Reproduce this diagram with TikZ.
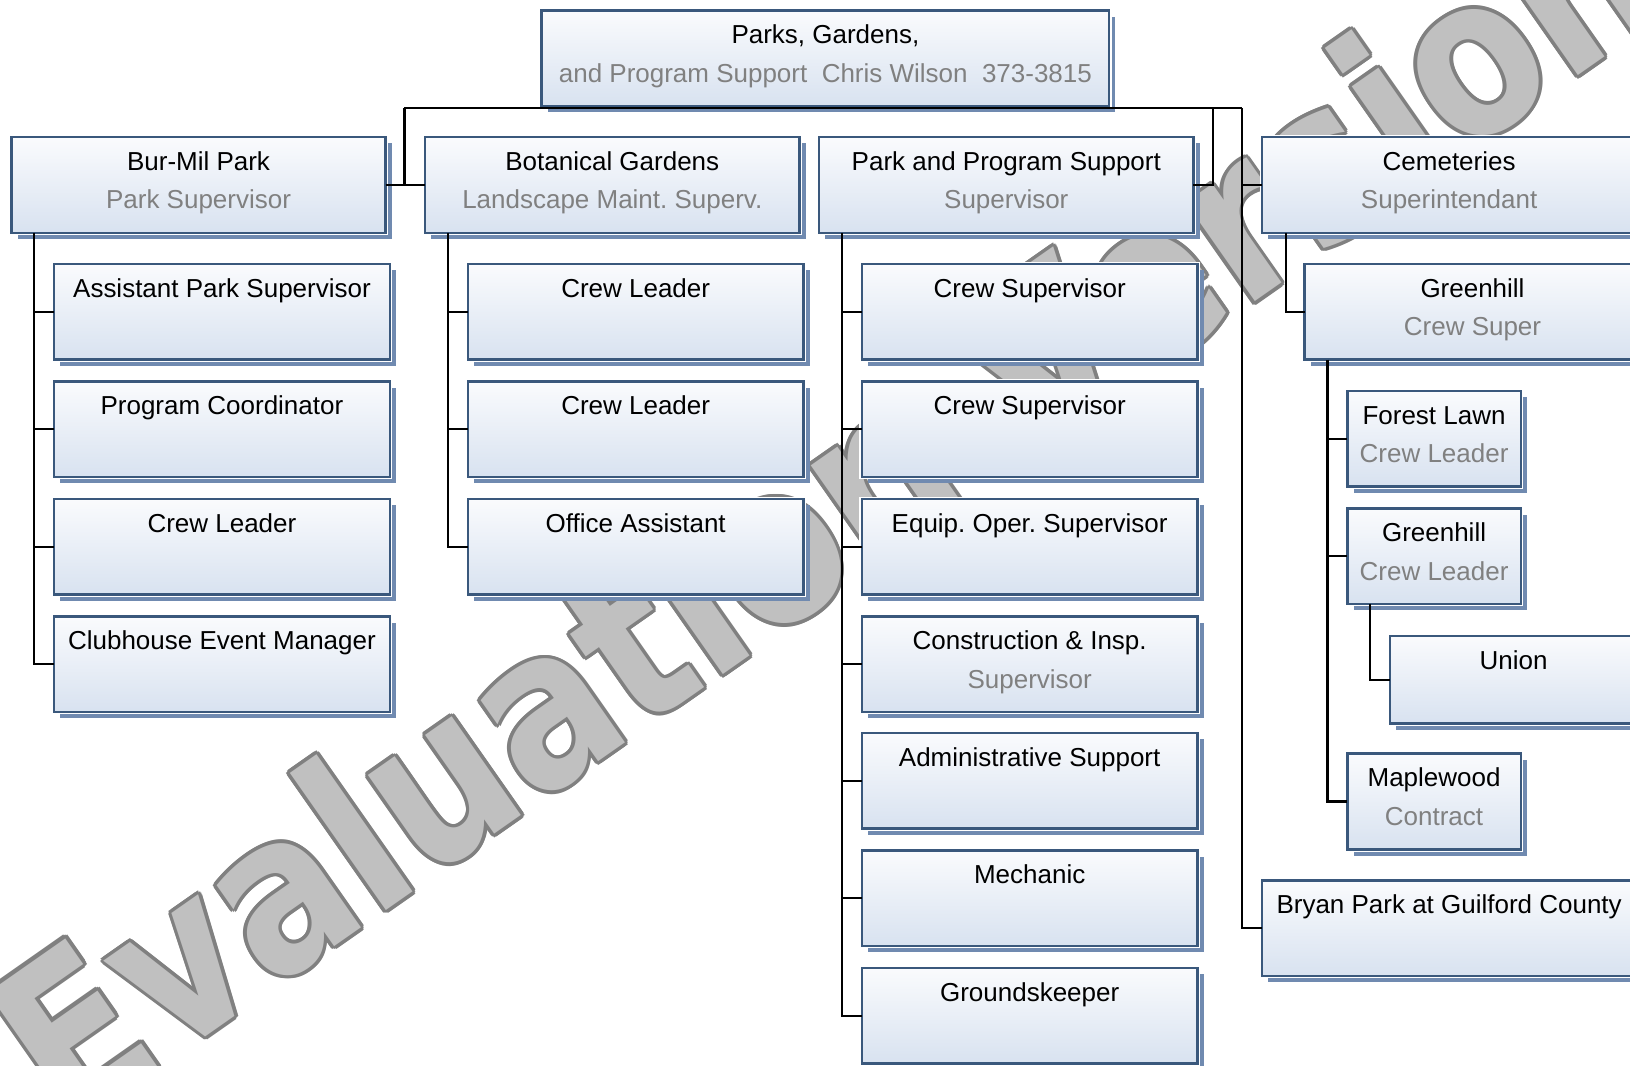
\documentclass[tikz,border=0pt]{standalone}
\usepackage{fontspec}
\setmainfont{Liberation Sans}
\newfontfamily\wmfont{DejaVu Sans}
\usetikzlibrary{shadows}
\definecolor{boxtop}{RGB}{250,251,253}
\definecolor{boxbot}{RGB}{216,226,240}
\definecolor{borderc}{RGB}{58,88,124}
\definecolor{shadowc}{RGB}{112,138,176}
\definecolor{subgray}{RGB}{128,128,128}
\definecolor{wmfill}{RGB}{192,192,192}
\definecolor{wmline}{RGB}{128,128,128}
\tikzset{
  orgbox/.style={inner sep=0pt, outer sep=0pt,
    drop shadow={shadow xshift=6pt, shadow yshift=-6pt, fill=shadowc, opacity=1},
    preaction={draw=white, line width=4.5pt},
    draw=borderc, line width=2.4pt, top color=boxtop, bottom color=boxbot,
    font=\fontsize{25}{37}\selectfont},
  conn/.style={draw=black, line width=2.2pt},
  wm/.style={anchor=base west, inner sep=0pt, rotate=35, xscale=0.845,
    font=\wmfont\bfseries\fontsize{212}{212}\selectfont}
}
\newcommand{\orgbox}[7]{%
  \node[orgbox] (#1) at ({#2+#4/2},{#3+#5/2})
    {\begin{minipage}[c][#5pt][t]{#4pt}\frenchspacing\centering\rule{0pt}{32pt}#6\par{\color{subgray}#7}\end{minipage}};}
% vertical trunk from a parent down to its last child
\newcommand{\trunk}[3]{\draw[conn] ([xshift=#2pt]#1.south west) |- (#3.west);}
% horizontal stub from a parent's trunk to a child
\newcommand{\stub}[3]{\draw[conn] ([xshift=#2pt]#1.south west |- #3.west) -- (#3.west);}
\begin{document}
\frenchspacing
\begin{tikzpicture}[x=1pt,y=-1pt]
\useasboundingbox (0,0) rectangle (1568,1025.4);
\clip (0,0) rectangle (1568,1025.4);
% watermark
\foreach \a in {0,30,...,330}
  \node[xshift={3.4pt*cos(\a)}, yshift={3.4pt*sin(\a)}, wm, text=wmline] (wmo\a) at (64,1091) {Evaluation Version};
\node[wm, text=wmfill] (wm) at (64,1091) {Evaluation Version};
% boxes
\orgbox{T}{521}{10}{546}{92}{Parks, Gardens,}{and Program Support\ \ Chris Wilson\ \ 373-3815}
\orgbox{BurMil}{11}{132}{360}{92}{Bur-Mil Park}{Park Supervisor}
\orgbox{Bot}{409}{132}{360}{92}{Botanical Gardens}{Landscape Maint. Superv.}
\orgbox{PPS}{788}{132}{360}{92}{Park and Program Support}{Supervisor}
\orgbox{Cem}{1214}{132}{360}{92}{Cemeteries}{Superintendant}
\orgbox{Bryan}{1214}{847}{360}{92}{Bryan Park at Guilford County}{}
\orgbox{APS}{52}{254}{323}{92}{Assistant Park Supervisor}{}
\orgbox{PC}{52}{367}{323}{92}{Program Coordinator}{}
\orgbox{BCL}{52}{480}{323}{92}{Crew Leader}{}
\orgbox{CEM}{52}{593}{323}{92}{Clubhouse Event Manager}{}
\orgbox{GCLa}{450}{254}{323}{92}{Crew Leader}{}
\orgbox{GCLb}{450}{367}{323}{92}{Crew Leader}{}
\orgbox{OA}{450}{480}{323}{92}{Office Assistant}{}
\orgbox{CSa}{829}{254}{323}{92}{Crew Supervisor}{}
\orgbox{CSb}{829}{367}{323}{92}{Crew Supervisor}{}
\orgbox{EOS}{829}{480}{323}{92}{Equip. Oper. Supervisor}{}
\orgbox{CIS}{829}{593}{323}{92}{Construction \& Insp.}{Supervisor}
\orgbox{AS}{829}{705}{323}{92}{Administrative Support}{}
\orgbox{MECH}{829}{818}{323}{92}{Mechanic}{}
\orgbox{GK}{829}{931}{323}{92}{Groundskeeper}{}
\orgbox{GH}{1255}{254}{323}{92}{Greenhill}{Crew Super}
\orgbox{FL}{1296}{376}{167}{92}{Forest Lawn}{Crew Leader}
\orgbox{GHCL}{1296}{489}{167}{92}{Greenhill}{Crew Leader}
\orgbox{UN}{1337}{612}{238}{84}{Union}{}
\orgbox{MW}{1296}{725}{167}{92}{Maplewood}{Contract}
% connectors
\coordinate (j1) at (389,104);
\coordinate (j2) at (1167,104);
\coordinate (j3) at (1195,104);
\draw[conn] (j1) -- (j3);
\draw[conn] (BurMil.east) -- (Bot.west);
\draw[conn] (j1) -- (j1 |- Bot.west);
\draw[conn] (PPS.east) -| (j2);
\draw[conn] (j3) |- (Bryan.west);
\draw[conn] (j3 |- Cem.west) -- (Cem.west);
\trunk{BurMil}{22}{CEM}
\stub{BurMil}{22}{APS}\stub{BurMil}{22}{PC}\stub{BurMil}{22}{BCL}
\trunk{Bot}{22}{OA}
\stub{Bot}{22}{GCLa}\stub{Bot}{22}{GCLb}
\trunk{PPS}{22}{GK}
\stub{PPS}{22}{CSa}\stub{PPS}{22}{CSb}\stub{PPS}{22}{EOS}
\stub{PPS}{22}{CIS}\stub{PPS}{22}{AS}\stub{PPS}{22}{MECH}
\trunk{Cem}{23}{GH}
\trunk{GH}{22}{MW}
\stub{GH}{22}{FL}\stub{GH}{22}{GHCL}
\trunk{GHCL}{22}{UN}
\end{tikzpicture}
\end{document}
